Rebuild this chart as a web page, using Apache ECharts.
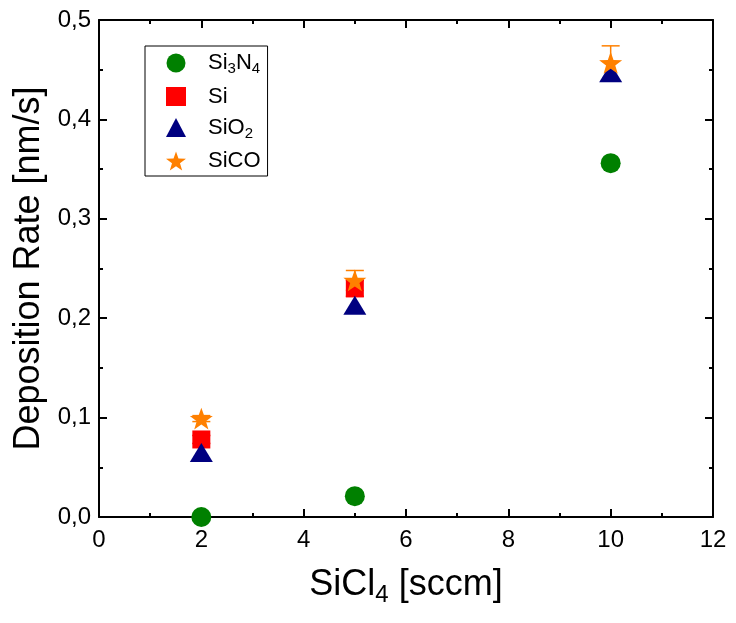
<!DOCTYPE html>
<html>
<head>
<meta charset="utf-8">
<script src="https://cdn.jsdelivr.net/npm/echarts@6/dist/echarts.min.js"></script>
<style>
  html, body { margin: 0; padding: 0; background: #fff; }
  #chart { width: 736px; height: 623px; }
</style>
</head>
<body>
<div id="chart"></div>
<script>
const flow = [2, 5, 10];
const si3n4 = [0.0, 0.021, 0.356];
const si = [0.078, 0.230, null];
const sio2 = [0.065, 0.213, 0.447];
const sico = [0.099, 0.238, 0.457];
const siErr = [0.004, 0.008, null];
const sicoErr = [0.003, 0.010, 0.017];

const starPath = 'path://M50,0L61.76,33.82L97.55,34.55L69.02,56.18L79.39,90.45L50,70L20.61,90.45L30.98,56.18L2.45,34.55L38.24,33.82Z';
const font = 'Liberation Sans, Arial, sans-serif';

const pts = (ys) => flow.map((x, i) => [x, ys[i]]).filter((p) => p[1] != null);
const errPts = (ys, es) => flow.map((x, i) => [x, ys[i], es[i]]).filter((p) => p[1] != null);

const errorBars = (name, color, data) => ({
  name: name + ' err',
  type: 'custom',
  data,
  z: 3,
  encode: { x: 0, y: 1 },
  renderItem: (params, api) => {
    const x = api.value(0);
    const y = api.value(1);
    const e = api.value(2);
    const hi = api.coord([x, y + e]);
    const lo = api.coord([x, y - e]);
    const w = 9;
    const style = { stroke: color, lineWidth: 1.5 };
    return {
      type: 'group',
      children: [
        { type: 'line', shape: { x1: hi[0], y1: hi[1], x2: lo[0], y2: lo[1] }, style },
        { type: 'line', shape: { x1: hi[0] - w, y1: hi[1], x2: hi[0] + w, y2: hi[1] }, style },
        { type: 'line', shape: { x1: lo[0] - w, y1: lo[1], x2: lo[0] + w, y2: lo[1] }, style },
      ],
    };
  },
});

const axisBase = {
  type: 'value',
  min: 0,
  axisLine: { show: true, onZero: false, lineStyle: { color: '#000', width: 2 } },
  axisTick: { show: true, inside: true, length: 8, lineStyle: { color: '#000', width: 2 } },
  minorTick: { show: true, splitNumber: 2, length: 4, lineStyle: { color: '#000', width: 2 } },
  splitLine: { show: false },
};

const chart = echarts.init(document.getElementById('chart'));
chart.setOption({
  animation: false,
  textStyle: { fontFamily: font },
  grid: { left: 99, right: 23, top: 20, bottom: 106 },
  legend: {
    orient: 'vertical',
    left: 145,
    top: 46,
    data: ['Si3N4', 'Si', 'SiO2', 'SiCO'],
    itemWidth: 20,
    itemHeight: 19,
    itemGap: 9,
    padding: [6, 7, 4, 21],
    borderColor: '#000',
    borderWidth: 1,
    borderRadius: 0,
    textStyle: {
      fontFamily: font,
      fontSize: 22,
      color: '#000',
      rich: {
        f: { fontFamily: font, fontSize: 22, color: '#000', padding: [0, 0, 0, 17] },
        a: { fontFamily: font, fontSize: 22, color: '#000' },
        s: { fontFamily: font, fontSize: 15, color: '#000', padding: [12, 0, 0, 0] },
      },
    },
    formatter: (name) => {
      if (name === 'Si3N4') return '{f|Si}{s|3}{a|N}{s|4}';
      if (name === 'SiO2') return '{f|SiO}{s|2}';
      return '{f|' + name + '}';
    },
  },
  xAxis: [
    Object.assign({}, axisBase, {
      max: 12,
      interval: 2,
      position: 'bottom',
      name: '{a|SiCl}{s|4}{a| [sccm]}',
      nameLocation: 'middle',
      nameGap: 46,
      nameTextStyle: {
        rich: {
          a: { fontFamily: font, fontSize: 36, color: '#000' },
          s: { fontFamily: font, fontSize: 24, color: '#000', padding: [20, 0, 0, 0] },
        },
      },
      axisLabel: { fontSize: 24, color: '#000', margin: 11, fontFamily: font },
    }),
    Object.assign({}, axisBase, {
      max: 12,
      interval: 2,
      position: 'top',
      axisLabel: { show: false },
    }),
  ],
  yAxis: [
    Object.assign({}, axisBase, {
      max: 0.5,
      interval: 0.1,
      position: 'left',
      name: 'Deposition Rate [nm/s]',
      nameLocation: 'middle',
      nameGap: 50,
      nameTextStyle: { fontFamily: font, fontSize: 36, color: '#000' },
      axisLabel: {
        fontSize: 24,
        color: '#000',
        margin: 8,
        fontFamily: font,
        formatter: (v) => v.toFixed(1).replace('.', ','),
      },
    }),
    Object.assign({}, axisBase, {
      max: 0.5,
      interval: 0.1,
      position: 'right',
      axisLabel: { show: false },
    }),
  ],
  series: [
    {
      name: 'Si3N4',
      type: 'scatter',
      symbol: 'circle',
      symbolSize: 20,
      itemStyle: { color: '#008000', opacity: 1 },
      data: pts(si3n4),
      z: 3,
    },
    {
      name: 'Si',
      type: 'scatter',
      symbol: 'rect',
      symbolSize: 18,
      itemStyle: { color: '#ff0000', opacity: 1 },
      data: pts(si),
      z: 3,
    },
    errorBars('Si', '#ff0000', errPts(si, siErr)),
    {
      name: 'SiO2',
      type: 'scatter',
      symbol: 'triangle',
      symbolSize: [23, 19],
      itemStyle: { color: '#000080', opacity: 1 },
      data: pts(sio2),
      z: 3,
    },
    {
      name: 'SiCO',
      type: 'scatter',
      symbol: starPath,
      symbolKeepAspect: true,
      symbolSize: 23,
      itemStyle: { color: '#ff8000', opacity: 1 },
      data: pts(sico),
      z: 3,
    },
    errorBars('SiCO', '#ff8000', errPts(sico, sicoErr)),
  ],
});
</script>
</body>
</html>
